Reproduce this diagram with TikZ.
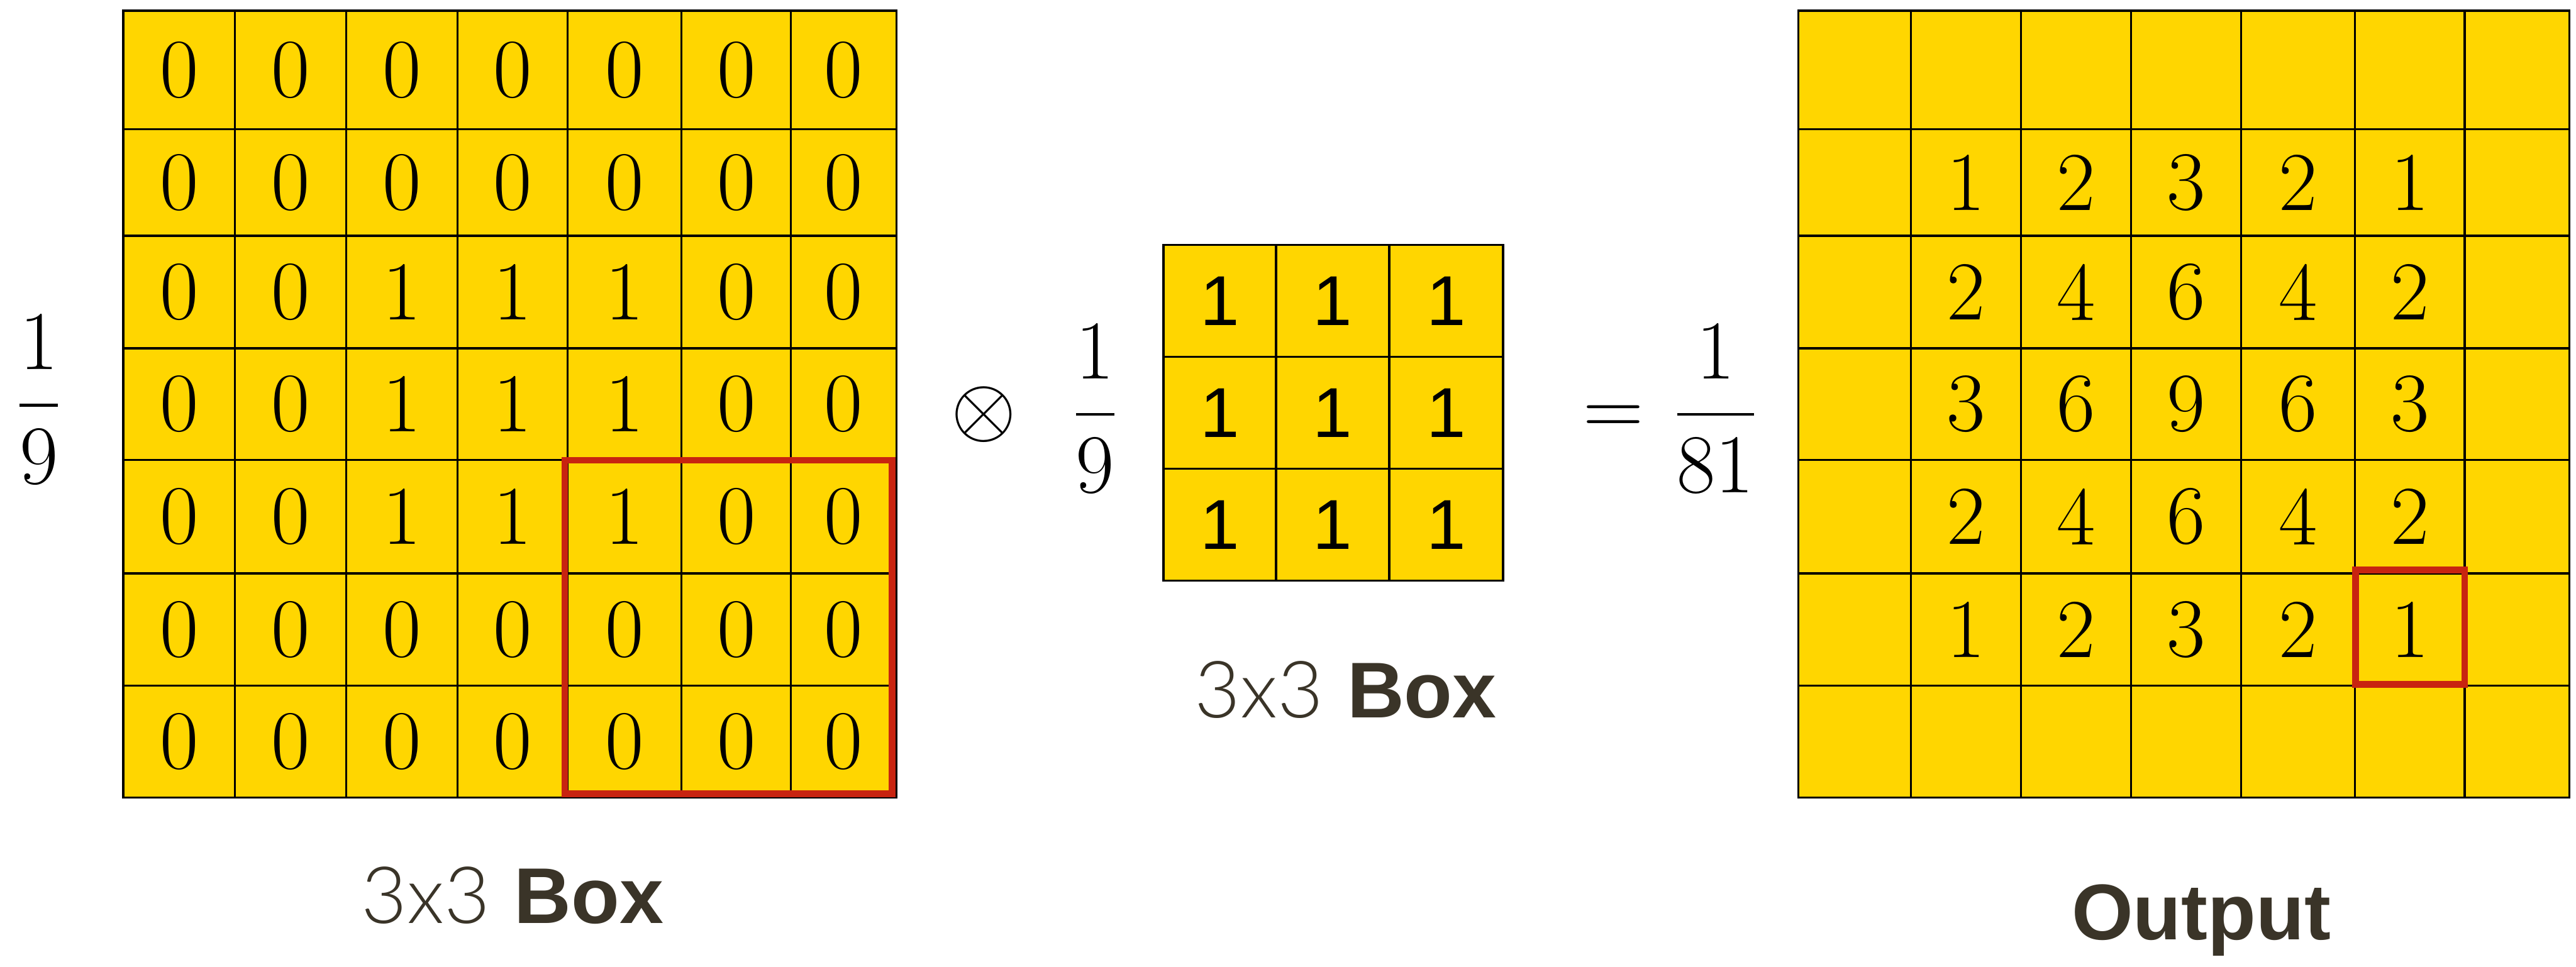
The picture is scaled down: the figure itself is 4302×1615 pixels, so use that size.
\RequirePackage{fix-cm}
\documentclass[tikz,border=0pt]{standalone}
\usepackage{fontspec}
\newfontfamily\labelsans{Liberation Sans}
\newfontfamily\labellight{Lato Light}
\definecolor{cellyellow}{RGB}{255,214,0}
\definecolor{markred}{RGB}{200,36,16}
\definecolor{labelink}{RGB}{58,52,40}
% display fraction with a bar thick enough for the large size used here
\newcommand\bigfrac[2]{$\displaystyle{#1\above 4.5pt #2}$}
\begin{document}
\begin{tikzpicture}[x=1pt,y=-1pt,
  gridline/.style={line width=3.5pt, line cap=rect},
  markbox/.style={draw=markred, line width=11pt, line join=miter},
  serifnum/.style={inner sep=0pt, font=\fontsize{140}{140}\selectfont},
  sansnum/.style={inner sep=0pt, font=\labelsans\fontsize{118}{118}\selectfont},
  mathsym/.style={inner sep=0pt, anchor=base, font=\fontsize{140}{140}\selectfont},
  caption/.style={inner sep=0pt, anchor=base, text=labelink, font=\fontsize{132}{140}\selectfont}]

\useasboundingbox (0,0) rectangle (4302,1615);

% cell-centre guides shared by the two large grids
\foreach \yy [count=\i from 0] in {117,305,488,675,863,1051.5,1238.5}
  \coordinate (row-\i) at (0,\yy);

% ---------- input image (7x7) ----------
\foreach \xx [count=\i from 0] in {299,485,671,856,1043,1229.5,1409}
  \coordinate (lcol-\i) at (\xx,0);
\fill[cellyellow] (206,18) rectangle (1497,1332);
\foreach \xx in {206,392,578,764,948,1138,1321,1497}
  \draw[gridline] (\xx,18) -- (\xx,1332);
\foreach \yy in {18,216,394,582,768,958,1145,1332}
  \draw[gridline] (206,\yy) -- (1497,\yy);
\draw[markbox] (943,769) rectangle (1490,1326);
\foreach \rowvals [count=\rr from 0] in
  {{0,0,0,0,0,0,0},{0,0,0,0,0,0,0},{0,0,1,1,1,0,0},{0,0,1,1,1,0,0},
   {0,0,1,1,1,0,0},{0,0,0,0,0,0,0},{0,0,0,0,0,0,0}} {
  \foreach \val [count=\cc from 0] in \rowvals
    \node[serifnum] (in-\rr-\cc) at (lcol-\cc |- row-\rr) {\val};
}
\node[mathsym] (in-scale) at (65,712) {\bigfrac{1}{9}};
\node[caption] (in-caption) at (856,1542) {{\labellight 3x3} {\labelsans\bfseries Box}};

% ---------- operator ----------
\node[mathsym] (conv) at (1643,727) {$\otimes$};

% ---------- 3x3 box kernel ----------
\foreach \xx [count=\i from 0] in {2037,2225.5,2415}
  \coordinate (kcol-\i) at (\xx,0);
\foreach \yy [count=\i from 0] in {502.5,689.5,876.5}
  \coordinate (krow-\i) at (0,\yy);
\fill[cellyellow] (1943,409) rectangle (2510,970);
\foreach \xx in {1943,2131,2320,2510}
  \draw[gridline] (\xx,409) -- (\xx,970);
\foreach \yy in {409,596,783,970}
  \draw[gridline] (1943,\yy) -- (2510,\yy);
\foreach \rr in {0,1,2}
  \foreach \cc in {0,1,2}
    \node[sansnum] (k-\rr-\cc) at (kcol-\cc |- krow-\rr) {1};
\node[mathsym] (k-scale) at (1829,727) {\bigfrac{1}{9}};
\node[caption] (k-caption) at (2247,1199) {{\labellight 3x3} {\labelsans\bfseries Box}};

% ---------- result ----------
\node[mathsym] (equals) at (2694,727) {$=$};
\node[mathsym] (out-scale) at (2865,727) {\bigfrac{1}{81}};

\foreach \xx [count=\i from 0] in {3097,3283,3467,3651,3838,4024.5,4203.5}
  \coordinate (rcol-\i) at (\xx,0);
\fill[cellyellow] (3003,18) rectangle (4291,1332);
\foreach \xx in {3003,3191,3375,3559,3743,3933,4116,4291}
  \draw[gridline] (\xx,18) -- (\xx,1332);
\foreach \yy in {18,216,394,582,768,958,1145,1332}
  \draw[gridline] (3003,\yy) -- (4291,\yy);
\draw[markbox] (3934,952) rectangle (4116,1143);
\foreach \rowvals [count=\rr from 1] in
  {{1,2,3,2,1},{2,4,6,4,2},{3,6,9,6,3},{2,4,6,4,2},{1,2,3,2,1}} {
  \foreach \val [count=\cc from 1] in \rowvals
    \node[serifnum] (out-\rr-\cc) at (rcol-\cc |- row-\rr) {\val};
}
\node[caption] (out-caption) at (3676,1570) {\labelsans\bfseries Output};
\end{tikzpicture}
\end{document}
